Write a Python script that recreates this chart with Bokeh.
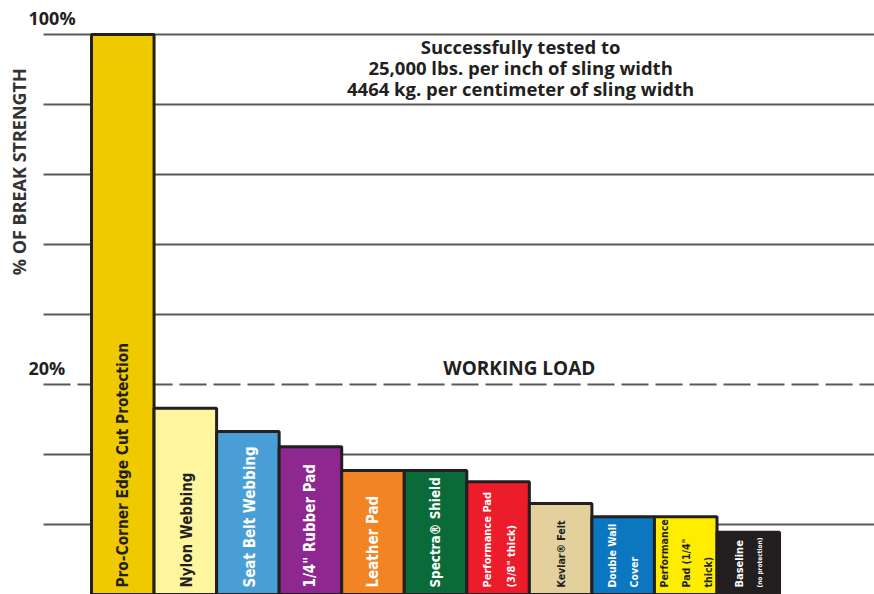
import numpy as np
from bokeh.plotting import figure
from bokeh.models import Range1d, Label, ColumnDataSource
from bokeh.core.properties import value, field
from bokeh.embed import file_html
from bokeh.resources import INLINE

# ---- data ----
# Heights are in gridline units of the original schematic axis
# (one unit = one gridline step; 20% sits at 3 units, 100% at 8 units).
categories = [
    "Pro-Corner Edge Cut Protection",
    "Nylon Webbing",
    "Seat Belt Webbing",
    '1/4" Rubber Pad',
    "Leather Pad",
    "Spectra® Shield",
    'Performance Pad\n(3/8" thick)',
    "Kevlar® Felt",
    "Double Wall\nCover",
    'Performance\nPad (1/4"\nthick)',
    "Baseline",
]
sub_notes = ["", "", "", "", "", "", "", "", "", "", "(no protection)"]
values = [8.0, 2.66, 2.33, 2.11, 1.77, 1.77, 1.61, 1.30, 1.11, 1.11, 0.89]

grid_positions = [1, 2, 4, 5, 6, 7, 8]
working_load_position = [3]
tick_positions = [3, 8]
tick_labels = ["20%", "100%"]

title_lines = [
    "Successfully tested to",
    "25,000 lbs. per inch of sling width",
    "4464 kg. per centimeter of sling width",
]
working_label = "WORKING LOAD"
y_title = "% OF BREAK STRENGTH"

# ---- styles ----
bar_colors = ["#F0CA00", "#FFF59E", "#4A9ED6", "#8E2790", "#F28424", "#0A6A39",
              "#EC1C2B", "#E4D09C", "#0A77C0", "#FFED00", "#231F20"]
label_colors = ["#231F20", "#231F20", "#FFFFFF", "#FFFFFF", "#FFFFFF", "#FFFFFF",
                "#FFFFFF", "#231F20", "#FFFFFF", "#231F20", "#FFFFFF"]
label_sizes = ["15.3px", "15px", "15px", "15px", "15px", "13.3px",
               "11px", "10.5px", "10.5px", "10.5px", "11px"]
label_xoff = [0, 2, 2, 0, 0, 0, 1, 0, 0, 0, -9]
DARK = "#231F20"
GRID = "#595959"
FONT = "Open Sans"
BAR_FONT = "'DejaVu Sans Condensed', Roboto, sans-serif"

GRID_X0 = -0.767   # left end of the horizontal rules
GRID_X1 = 12.6     # right edge

x = np.arange(len(categories)) + 0.5

p = figure(width=874, height=594, output_backend="svg", toolbar_location=None,
           x_range=Range1d(-1.455, 12.518), y_range=Range1d(0, 8.486),
           min_border_left=0, min_border_right=0, min_border_top=0, min_border_bottom=0)
p.xaxis.visible = False
p.yaxis.visible = False
p.outline_line_color = None
p.xgrid.visible = False
p.ygrid.visible = False

# horizontal rules
p.segment(x0=GRID_X0, x1=GRID_X1, y0=grid_positions, y1=grid_positions,
          line_color=GRID, line_width=2)
p.segment(x0=GRID_X0, x1=GRID_X1, y0=working_load_position, y1=working_load_position,
          line_color=GRID, line_width=2, line_dash="27 7")

src = ColumnDataSource(dict(x=x, top=values, cat=categories, color=bar_colors,
                            tcolor=label_colors, size=label_sizes,
                            note=sub_notes, xoff=label_xoff))
p.vbar(x="x", top="top", bottom=-0.3, width=1, source=src,
       fill_color="color", line_color=DARK, line_width=3)

p.text(x="x", y=0.1, text="cat", source=src, angle=np.pi / 2, x_offset="xoff",
       text_align="left", text_baseline="middle", text_color="tcolor",
       text_font=value(BAR_FONT), text_font_style="bold",
       text_font_size=field("size"), text_line_height=1.85)

p.text(x="x", y=0.1, text="note", source=src, angle=np.pi / 2, x_offset=12,
       text_align="left", text_baseline="middle", text_color="tcolor",
       text_font=value(BAR_FONT), text_font_style="bold", text_font_size="6.5px")

for tp, tl in zip(tick_positions, tick_labels):
    p.add_layout(Label(x=-1.007, y=tp + 0.24, text=tl, text_font=FONT,
                       text_font_style="bold", text_font_size="18px",
                       text_color=DARK, text_align="left", text_baseline="middle"))

p.add_layout(Label(x=-1.167, y=6.04, text=y_title, angle=np.pi / 2,
                   text_font=FONT, text_font_style="bold", text_font_size="18px",
                   text_color="#333333", text_align="center", text_baseline="middle"))

for i, line in enumerate(title_lines):
    p.add_layout(Label(x=6.86, y=7.83 - 0.3 * i, text=line, text_font=FONT,
                       text_font_style="bold", text_font_size="18.5px",
                       text_color=DARK, text_align="center", text_baseline="middle"))

p.add_layout(Label(x=6.84, y=3.24, text=working_label, text_font=FONT,
                   text_font_style="bold", text_font_size="19px",
                   text_color=DARK, text_align="center", text_baseline="middle"))

open("out.html", "w").write(file_html(p, INLINE))
